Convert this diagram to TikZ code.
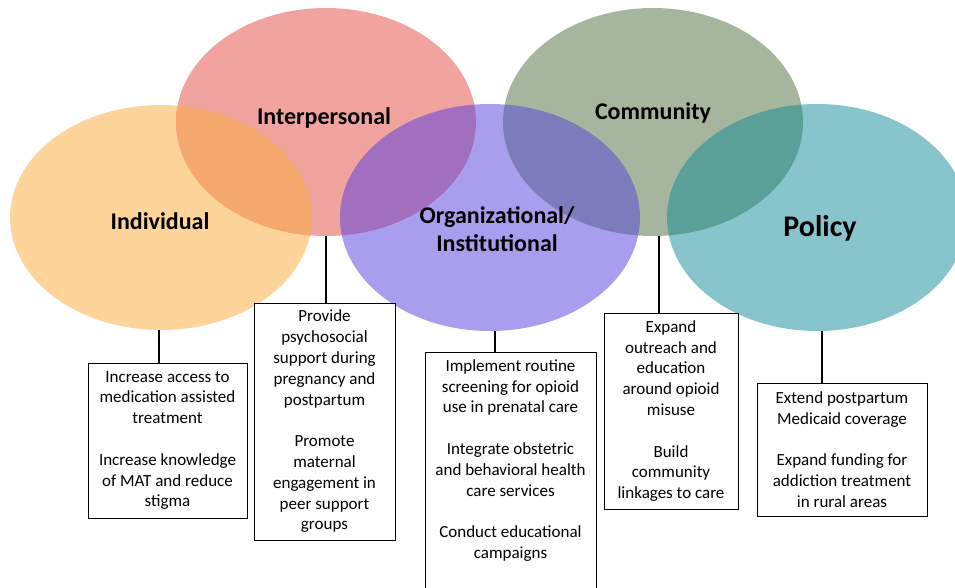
\documentclass[tikz,border=0pt]{standalone}
\usepackage{fontspec}
\setmainfont{Carlito}
\usetikzlibrary{shapes.geometric}
\definecolor{cInd}{HTML}{FDD59B}
\definecolor{cInt}{HTML}{F0A39F}
\definecolor{cOrg}{HTML}{A99DEE}
\definecolor{cCom}{HTML}{A6B69E}
\definecolor{cPol}{HTML}{88C4CB}
\definecolor{cIndInt}{HTML}{F5A96E}
\definecolor{cIntOrg}{HTML}{A26FBE}
\definecolor{cOrgCom}{HTML}{7C7BBB}
\definecolor{cComPol}{HTML}{5B9F99}
\begin{document}
\begin{tikzpicture}[x=1pt,y=-1pt,
  level/.style={ellipse, inner sep=0pt, minimum width=300pt, minimum height=227pt},
  lab/.style={font=\fontsize{24}{28}\selectfont\bfseries, align=center, inner sep=0pt},
  box/.style={draw=black, line width=1pt, fill=white, align=center, inner sep=0pt,
              font=\fontsize{17}{20.8}\selectfont},
  conn/.style={line width=1.6pt}]
\useasboundingbox (0,0) rectangle (955,588);
% levels
\node[level, fill=cInd, minimum width=302pt, minimum height=225pt] (ind) at (161,217.5) {};
\node[level, fill=cInt, minimum height=228pt] (int) at (326,122) {};
\node[level, fill=cOrg] (org) at (490,217.5) {};
\node[level, fill=cCom, minimum height=228pt] (com) at (653,122) {};
\node[level, fill=cPol] (pol) at (817,217.5) {};
% overlaps
\begin{scope}
  \clip (161,217.5) ellipse [x radius=151pt, y radius=112.5pt];
  \fill[cIndInt] (326,122) ellipse [x radius=150pt, y radius=114pt];
\end{scope}
\begin{scope}
  \clip (326,122) ellipse [x radius=150pt, y radius=114pt];
  \fill[cIntOrg] (490,217.5) ellipse [x radius=150pt, y radius=113.5pt];
\end{scope}
\begin{scope}
  \clip (653,122) ellipse [x radius=150pt, y radius=114pt];
  \fill[cOrgCom] (490,217.5) ellipse [x radius=150pt, y radius=113.5pt];
\end{scope}
\begin{scope}
  \clip (653,122) ellipse [x radius=150pt, y radius=114pt];
  \fill[cComPol] (817,217.5) ellipse [x radius=150pt, y radius=113.5pt];
\end{scope}
% labels
\node[lab] (tInd) at (160,221) {Individual};
\node[lab] (tInt) at (324,118) {Interpersonal};
\node[lab] (tOrg) at (497,229) {Organizational/\\Institutional};
\node[lab] (tCom) at (653,113) {Community};
\node[lab, font=\fontsize{30}{36}\selectfont\bfseries] (tPol) at (820,228) {Policy};
% boxes
\node[box, minimum width=159pt, minimum height=155pt] (b1) at (167.5,440.5)
  {Increase access to\\medication assisted\\treatment\\[20.8pt]Increase knowledge\\of MAT and reduce\\stigma};
\node[box, minimum width=141pt, minimum height=237pt] (b2) at (324.5,421.5)
  {Provide\\psychosocial\\support during\\pregnancy and\\postpartum\\[20.8pt]Promote\\maternal\\engagement in\\peer support\\groups};
\node[box, anchor=north, minimum width=171pt, inner ysep=7pt] (b3) at (510.5,352)
  {\parbox[c][250pt][t]{165pt}{\centering\fontsize{17}{20.8}\selectfont
   Implement routine\\screening for opioid\\use in prenatal care\\[20.8pt]Integrate obstetric\\and behavioral health\\care services\\[20.8pt]Conduct educational\\campaigns}};
\node[box, minimum width=134pt, minimum height=196pt] (b4) at (671,411)
  {Expand\\outreach and\\education\\around opioid\\misuse\\[20.8pt]Build\\community\\linkages to care};
\node[box, minimum width=170pt, minimum height=133pt] (b5) at (842,449.5)
  {Extend postpartum\\Medicaid coverage\\[20.8pt]Expand funding for\\addiction treatment\\in rural areas};
% connectors
\draw[conn] ([xshift=-2pt]ind.south) -- ([xshift=-2pt]ind.south |- b1.north);
\draw[conn] (int.south) -- (int.south |- b2.north);
\draw[conn] ([xshift=5pt]org.south) -- ([xshift=5pt]org.south |- b3.north);
\draw[conn] ([xshift=6pt]com.south) -- ([xshift=6pt]com.south |- b4.north);
\draw[conn] ([xshift=5pt]pol.south) -- ([xshift=5pt]pol.south |- b5.north);
\end{tikzpicture}
\end{document}
